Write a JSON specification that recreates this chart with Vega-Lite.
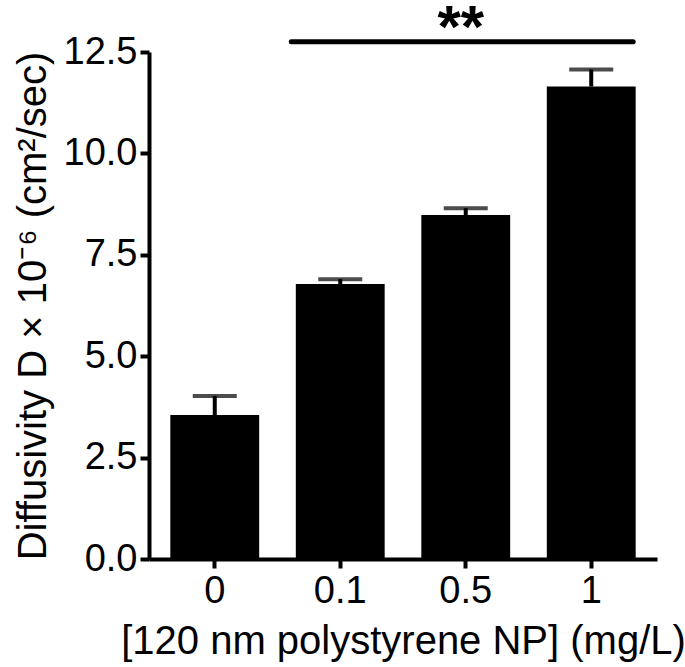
{
  "$schema": "https://vega.github.io/schema/vega-lite/v6.json",
  "width": 508,
  "height": 507,
  "autosize": "none",
  "padding": {"left": 149, "top": 52, "right": 28, "bottom": 108},
  "background": "white",
  "config": {"view": {"stroke": null}, "font": "Liberation Sans"},
  "datasets": {
    "bars": [
      {"conc": "0", "mean": 3.55, "upper": 4.02},
      {"conc": "0.1", "mean": 6.78, "upper": 6.9},
      {"conc": "0.5", "mean": 8.48, "upper": 8.65},
      {"conc": "1", "mean": 11.65, "upper": 12.07}
    ],
    "sig": [{"from": "0.1", "to": "1", "y": 12.75, "mid": "0.5", "label": "**", "ty": 12.62}]
  },
  "layer": [
    {
      "data": {"name": "bars"},
      "mark": {"type": "bar", "color": "black"},
      "encoding": {
        "x": {
          "field": "conc", "type": "ordinal", "sort": null,
          "scale": {"paddingInner": 0.292, "paddingOuter": 0.17},
          "axis": {
            "title": "[120 nm polystyrene NP] (mg/L)",
            "titleFontSize": 40, "titleFontWeight": "normal", "titleColor": "black", "titlePadding": 11,
            "labelFontSize": 38, "labelColor": "black", "labelAngle": 0, "labelPadding": 4,
            "domainColor": "black", "domainWidth": 4, "tickColor": "black", "tickWidth": 4, "tickSize": 9
          }
        },
        "y": {
          "field": "mean", "type": "quantitative",
          "scale": {"domain": [0, 12.5], "nice": false},
          "axis": {
            "title": "Diffusivity D × 10⁻⁶ (cm²/sec)",
            "titleFontSize": 40, "titleFontWeight": "normal", "titleColor": "black", "titlePadding": 10,
            "values": [0, 2.5, 5, 7.5, 10, 12.5], "format": ".1f",
            "labelFontSize": 38, "labelColor": "black", "labelPadding": 3,
            "domainColor": "black", "domainWidth": 4, "tickColor": "black", "tickWidth": 4, "tickSize": 9,
            "grid": false
          }
        }
      }
    },
    {
      "data": {"name": "bars"},
      "mark": {"type": "rule", "color": "black", "strokeWidth": 4},
      "encoding": {
        "x": {"field": "conc", "type": "ordinal", "sort": null},
        "y": {"field": "mean", "type": "quantitative"},
        "y2": {"field": "upper"}
      }
    },
    {
      "data": {"name": "bars"},
      "mark": {"type": "tick", "color": "black", "thickness": 4, "size": 44, "orient": "horizontal"},
      "encoding": {
        "x": {"field": "conc", "type": "ordinal", "sort": null},
        "y": {"field": "upper", "type": "quantitative"}
      }
    },
    {
      "data": {"name": "sig"},
      "mark": {"type": "rule", "color": "black", "strokeWidth": 5, "strokeCap": "round", "xOffset": -49, "x2Offset": 42},
      "encoding": {
        "x": {"field": "from", "type": "ordinal"},
        "x2": {"field": "to"},
        "y": {"field": "y", "type": "quantitative"}
      }
    },
    {
      "data": {"name": "sig"},
      "mark": {"type": "text", "color": "black", "fontSize": 60, "fontWeight": "bold", "baseline": "alphabetic", "align": "center", "xOffset": -5},
      "encoding": {
        "x": {"field": "mid", "type": "ordinal"},
        "y": {"field": "ty", "type": "quantitative"},
        "text": {"field": "label"}
      }
    }
  ]
}
